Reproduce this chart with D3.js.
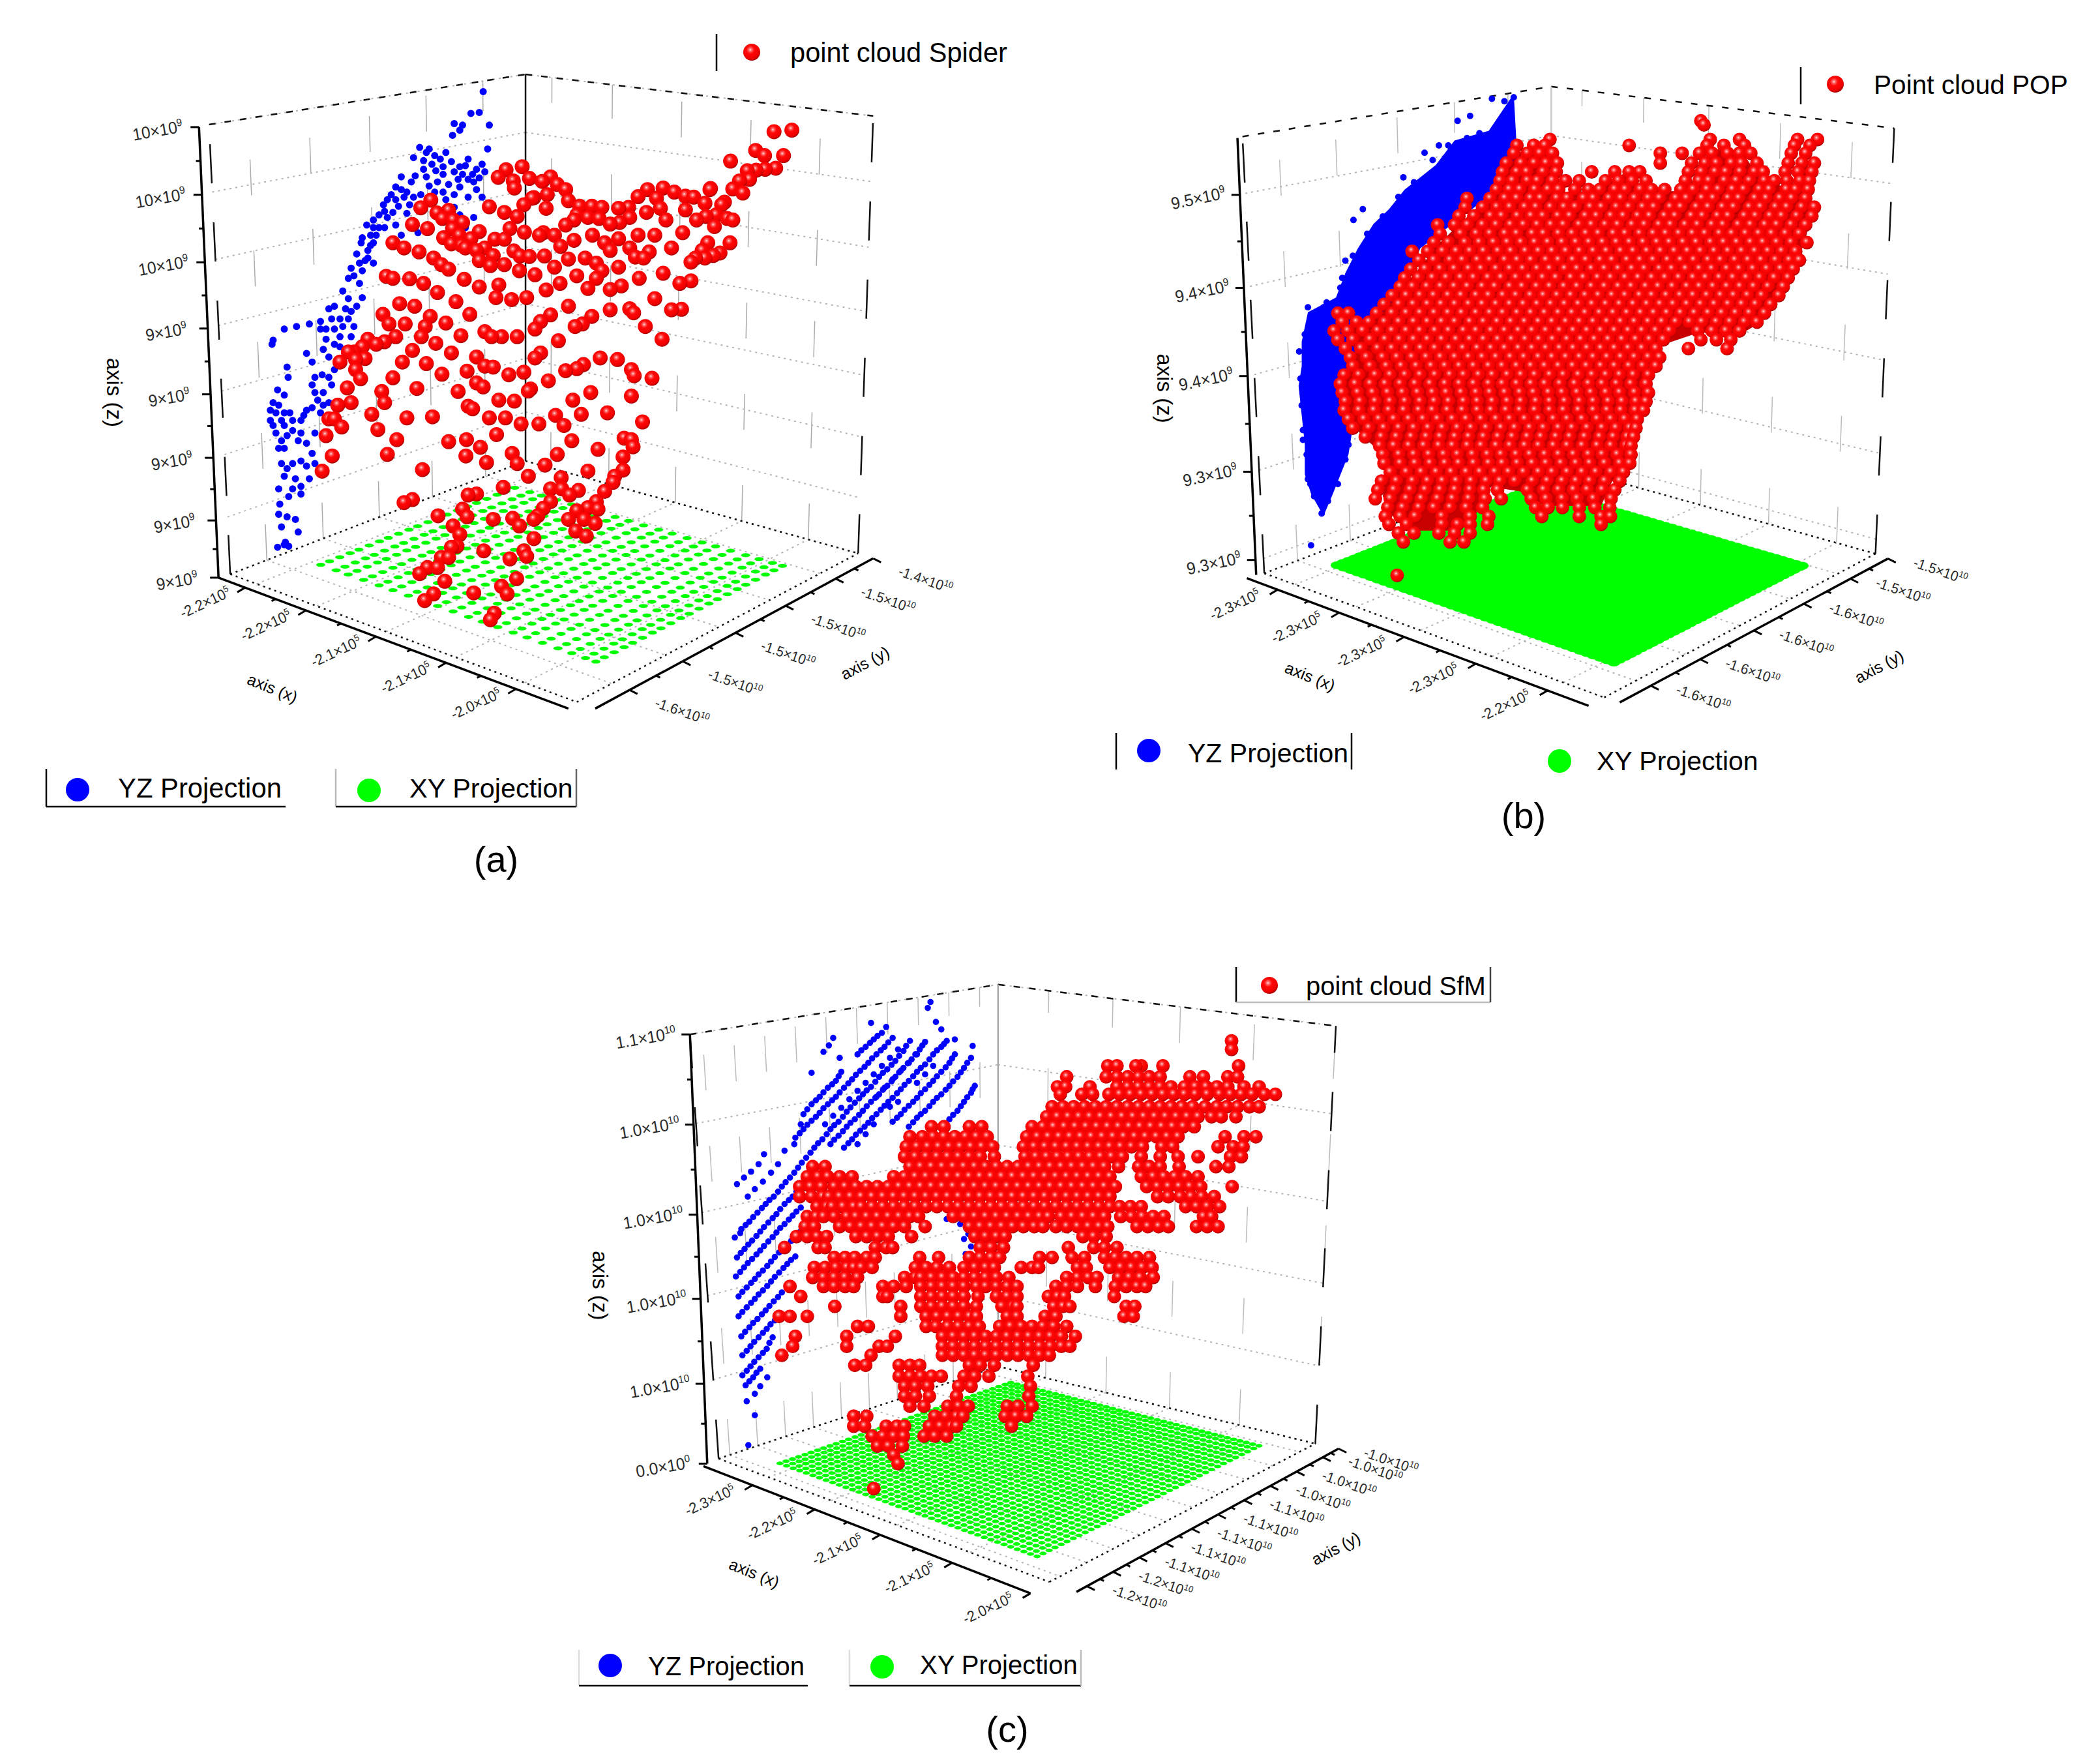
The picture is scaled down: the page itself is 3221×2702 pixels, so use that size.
<!DOCTYPE html>
<html>
<head>
<meta charset="utf-8">
<title>Point clouds</title>
<script src="https://cdn.jsdelivr.net/npm/d3@7"></script>
<style>
body { margin: 0; background: #fff; }
text { font-family: "Liberation Sans", Arial, sans-serif; fill: #000; }
</style>
</head>
<body>
<script>
// Red and blue clouds are read off the picture, so they are given in plot-plane
// reading units (0-1568 across the panel), since depth can't be recovered from one view.
// Green cells and ticks are given in percent of the floor axes.

// ---- panel a ----
var redCloudA = [[1351,218],[1319,221],[1286,258],[1302,268],[1336,268],[1241,279],[1322,293],[1303,295],[1287,297],[1271,298],[1275,315],[1257,318],[1245,334],[1263,342],[1230,360],[1204,335],
[867,290],[838,296],[824,311],[851,318],[880,313],[853,332],[918,310],[903,319],[930,325],[945,335],[888,351],[912,345],[950,357],[910,372],[870,365],[885,352],[858,388],[835,380],[808,369],[703,356],[685,371],[714,381],[735,376],[724,392],[670,404],[697,412],[743,395],[760,400],[742,412],[754,425],[790,418],[726,430],[740,442],[758,445],[775,432],[635,440],[655,450],[682,458],[708,470],[722,483],[735,492],[765,450],[785,455],[800,450],[818,433],[835,433],[845,412],[871,419],[898,425],[905,420],[852,456],[815,465],[790,475],[810,485],[835,483],[880,467],[863,466],[907,466],[936,447],[925,425],[945,405],[960,395],[970,368],[965,385],[992,368],[1010,370],[985,390],[1005,392],[1025,403],[1040,372],[1058,370],[1075,349],[1092,335],[1120,332],[1108,352],[1140,340],[1160,348],[1175,350],[1195,362],[1205,333],[1225,365],[1060,390],[1042,400],[1090,380],[1115,372],[1125,395],[1160,375],[1180,395],[1155,420],[1197,388],[1215,385],[1212,408],[1235,392],[1245,395],[1075,425],[1105,425],[960,435],[993,425],[1015,440],[1040,432],[1060,450],[1025,455],[1135,450],[1095,458],[1070,468],[1085,470],[1000,480],[980,470],[950,472],[925,488],[890,503],[862,495],[1170,478],[1190,455],[1195,470],[1222,460],[1240,440],[1200,440],[1210,465],[1178,470],[1040,488],[1010,495],[1000,510],[965,505],[935,520],[910,533],[875,548],[848,552],[820,548],[825,523],[790,527],[763,512],[748,556],[715,538],[690,520],[665,511],[635,510],[623,506],[1077,510],[1120,500],[1150,520],[1170,515],[1045,525],[1025,532],[985,530],[1105,550],[1135,572],[1153,571],[1060,570],[1067,578],[1025,572],[950,565],[992,585],[975,600],[962,605],[918,582],[900,595],[890,610],[1088,605],[1118,630],[932,633],[858,625],[830,625],[812,625],[800,615],[773,581],[757,623],[730,598],[702,585],[693,605],[674,565],[647,560],[617,581],[628,600],[657,600],[686,625],[712,638],[640,625],[620,635],[605,640],[590,630],[580,645],[565,655],[555,655],[568,670],[585,668],[540,675],[568,690],[577,708],[740,657],[785,665],[670,652],[652,675],[695,678],[800,683],[815,685],[768,693],[723,699],[635,706],[843,700],[870,695],[890,667],[900,657],[945,692],[965,688],[977,680],[1007,667],[1038,670],[1063,690],[1068,702],[1100,707],[914,712],[882,728],[878,732],[785,716],[797,724],[752,733],[678,727],[553,726],[615,733],[620,755],[560,755],[536,760],[825,750],[853,752],[958,750],[990,735],[1063,742],[770,762],[778,767],[597,778],[660,785],[706,783],[520,787],[530,787],[808,785],[837,785],[927,780],[973,778],[1020,775],[1083,793],[543,803],[608,808],[865,797],[897,797],[942,800],[515,820],[642,828],[735,832],[767,828],[821,818],[956,830],[1050,825],[1063,828],[1066,842],[792,843],[625,857],[526,860],[766,860],[849,855],[1003,847],[930,857],[1048,862],[803,873],[858,875],[908,878],[508,890],[688,887],[985,890],[1048,888],[878,900],[937,903],[1033,900],[1030,912],[833,922],[918,925],[938,925],[968,928],[1015,930],[1000,950],[770,937],[785,935],[952,937],[655,952],[670,946],[918,950],[905,963],[985,962],[965,968],[1003,965],[760,965],[768,980],[716,978],[895,978],[815,985],[850,983],[862,998],[888,985],[950,985],[978,985],[998,993],[743,998],[963,1008],[982,1018],[888,1023],[755,1015],[740,1040],[750,1038],[798,1047],[870,1047],[875,1058],[845,1063],[722,1060],[735,1060],[697,1080],[715,1080],[683,1092],[728,1107],[857,1102],[780,1130],[830,1117],[840,1132],[708,1132],[692,1145],[817,1170],[810,1183]];
var blueCloudA = [[797,142],[790,183],[775,185],[745,205],[808,208],[760,208],[742,228],[755,218],[805,255],[695,262],[672,272],[690,278],[710,268],[720,275],[740,280],[705,285],[725,290],[755,290],[770,275],[795,285],[785,295],[745,300],[760,305],[770,315],[800,300],[780,320],[650,310],[640,330],[675,308],[695,310],[715,320],[735,325],[660,340],[625,355],[640,355],[655,350],[618,365],[665,365],[635,380],[685,345],[710,340],[745,345],[770,350],[795,350],[780,390],[745,370],[730,355],[755,385],[765,410],[625,390],[600,395],[610,410],[660,382],[600,410],[595,425],[650,425],[680,420],[580,430],[578,440],[590,455],[600,440],[590,470],[575,480],[560,490],[580,495],[565,505],[600,480],[545,535],[555,550],[530,565],[580,548],[570,565],[520,570],[525,590],[555,590],[565,605],[505,595],[530,610],[540,625],[560,625],[505,610],[515,630],[485,600],[462,605],[440,610],[420,632],[418,640],[540,645],[480,658],[490,675],[445,685],[520,665],[530,690],[520,705],[495,705],[447,705],[428,730],[495,735],[510,735],[520,755],[505,775],[420,755],[440,740],[425,775],[440,775],[450,775],[480,770],[490,765],[510,760],[415,770],[470,790],[455,790],[420,800],[440,800],[425,815],[465,830],[480,835],[495,815],[435,830],[440,845],[490,855],[495,875],[435,875],[455,875],[470,870],[445,885],[485,905],[455,925],[470,935],[448,940],[430,925],[432,955],[430,975],[445,980],[435,1000],[460,985],[465,1010],[442,1030],[428,1040],[440,1035],[448,1038],
[683,252],[700,255],[730,262],[765,288],[778,305],[752,315],[790,312],[725,305],[712,298],[690,295],[668,320],[650,335],[632,345],[620,378],[645,368],[672,350],[700,328],[725,340],[755,330],[785,335],[610,385],[588,405],[605,425],[620,410],[640,405],[585,475],[570,462],[595,445],[555,510],[575,520],[550,570],[560,575],[540,590],[515,610],[545,605],[530,640],[510,650],[525,720],[508,700],[490,720],[500,750],[475,780],[430,760],[415,790],[435,790],[455,810],[445,820],[470,815],[430,845],[480,880],[440,900],[460,905],[470,920]];
var greenAx = [10,14.5,18,22.5,27,31,35.5,40,44,48.5,53,57,61.5,66,70,74.5,79,83,87,90];
var greenAy = [19,22,25.5,29,32,35.5,39,42,45.5,49,52,55.5,59,62,65.5,69,72,75.5,79,82,85];
var xTicksA = [7.6,25,45,65,85];
var xLabelsA = ["-2.2×10^5","-2.2×10^5","-2.1×10^5","-2.1×10^5","-2.0×10^5"];
var yTicksA = [12.4,31.5,50.5,68.5,86.5,100];
var yLabelsA = ["-1.6×10^10","-1.5×10^10","-1.5×10^10","-1.5×10^10","-1.5×10^10","-1.4×10^10"];
var zTicksA = [100,85,70,55.3,40.7,26.6,12.7,0];
var zLabelsA = ["10×10^9","10×10^9","10×10^9","9×10^9","9×10^9","9×10^9","9×10^9","9×10^9"];

// ---- panel b ----
var redOutlineB = [[655,205],[700,190],[710,240],[730,285],[770,285],[830,245],[860,280],[930,285],[945,230],[985,190],[1020,210],[1045,260],[1100,280],[1120,210],[1125,320],[1120,370],[1105,430],[1080,470],[1070,520],[1040,555],[1000,585],[950,570],[880,600],[860,660],[860,720],[840,770],[830,840],[805,880],[790,925],[700,925],[660,895],[610,885],[590,940],[550,975],[490,975],[455,945],[440,905],[450,830],[405,780],[385,740],[380,680],[395,610],[385,560],[430,545],[480,470],[530,390],[580,330],[630,270]];
var redRowsB = [[140,[950]],[148,[955]],[178,[708,965,1012,1105,1137]],
[190,[655,682,700,835,960,987,1020,1100,1125]],
[206,[650,672,692,712,885,920,948,968,993,1012,1030,1095,1118]],
[226,[638,662,683,702,720,885,935,957,975,999,1015,1040,1090,1112,1132]],
[244,[632,655,671,697,718,775,812,835,852,930,951,973,990,1013,1036,1050,1085,1106,1128]],
[262,[628,648,672,688,712,733,755,797,818,840,862,925,947,963,988,1007,1028,1052,1068,1088,1109,1124]],
[280,[622,643,660,684,705,722,748,770,788,812,829,853,871,892,918,938,960,978,1001,1019,1044,1060,1087,1102,1122]],
[298,[575,612,636,655,677,693,719,736,762,778,803,822,844,866,884,910,927,952,970,994,1011,1037,1055,1077,1096,1118]],
[316,[572,600,623,644,668,686,709,731,749,773,791,815,835,857,875,901,918,943,962,985,1003,1028,1046,1070,1088,1112,1132]],
[334,[562,586,613,631,656,678,697,721,740,765,783,806,826,849,868,892,909,935,953,977,994,1020,1038,1061,1080,1104,1128]],
[352,[528,555,576,600,622,645,666,688,710,730,755,775,797,817,840,860,883,902,925,945,968,986,1010,1030,1053,1072,1095,1118]],
[370,[532,565,590,612,636,655,680,698,722,744,766,786,810,829,852,874,894,915,937,957,980,1000,1022,1043,1064,1086,1108]],
[388,[522,545,572,595,618,640,662,684,705,728,750,771,793,815,836,858,880,900,922,943,966,987,1008,1030,1050,1072,1095,1120]],
[406,[487,512,536,558,580,602,625,646,669,690,712,734,756,778,799,822,842,864,886,908,929,950,972,994,1016,1037,1058,1080,1102]],
[424,[498,522,548,568,592,612,636,656,678,702,722,745,766,789,808,832,853,874,897,918,939,962,982,1005,1026,1047,1070,1092,1108]],
[442,[485,508,532,555,578,598,622,644,665,688,708,732,752,775,796,818,840,860,884,904,926,948,968,992,1012,1034,1056,1078,1098]],
[460,[475,497,520,542,565,586,609,630,654,675,697,718,742,762,785,806,829,850,872,893,915,938,958,980,1002,1023,1045,1068,1090]],
[478,[468,488,511,533,555,576,600,620,644,664,687,708,731,752,775,796,818,839,862,882,905,928,948,970,992,1013,1035,1058,1082]],
[496,[455,478,500,522,545,566,590,610,633,654,677,698,720,742,765,786,808,829,852,872,895,917,938,960,982,1003,1025,1048,1075]],
[514,[442,466,489,512,534,556,578,600,622,644,666,688,710,732,754,776,798,820,842,864,885,906,928,950,972,994,1016,1038,1062]],
[532,[368,385,430,455,478,500,523,545,567,590,612,633,656,678,700,722,744,765,788,810,832,854,875,896,918,940,962,984,1006,1028,1052]],
[550,[375,398,418,443,466,490,512,535,556,580,602,624,646,668,690,712,734,756,778,800,822,844,866,888,910,932,952,975,997,1020,1040]],
[568,[362,384,408,432,455,478,500,524,546,570,590,614,636,658,680,702,724,746,768,790,812,834,856,878,900,945,968,990,1012]],
[586,[368,392,420,444,467,490,512,535,558,580,602,625,647,669,691,713,736,758,780,802,824,846,868,890,950,975,998]],
[604,[380,405,432,455,478,501,524,547,569,592,614,636,658,680,702,724,746,768,790,812,834,856,878,930,992]],
[622,[388,414,440,463,487,510,533,556,578,600,622,645,667,690,712,734,756,778,800,822,844,866,884]],
[640,[392,420,446,470,494,518,540,563,586,610,632,655,678,700,722,745,767,790,812,835,857,878]],
[658,[378,402,428,452,476,500,524,548,570,594,616,640,662,684,708,730,754,776,798,820,842,866]],
[676,[372,396,420,444,468,492,516,540,563,586,610,632,655,678,700,724,748,770,792,815,838,862]],
[694,[375,400,424,448,472,496,520,542,566,590,612,636,660,682,706,728,752,774,798,820,844,866]],
[712,[380,404,428,452,476,500,523,546,570,592,616,640,662,686,708,732,756,778,802,824,846,862]],
[730,[378,402,426,450,474,498,520,544,568,592,614,638,660,684,708,730,754,778,800,822,845,858]],
[748,[385,410,434,458,482,505,528,552,574,598,622,644,668,690,714,736,760,784,806,828,848]],
[766,[392,418,442,466,490,513,536,560,582,606,630,652,676,698,722,744,768,792,814,836,846]],
[784,[412,438,462,486,510,532,556,578,602,625,648,672,694,718,740,764,788,810,832,842]],
[802,[435,458,482,506,530,552,576,598,622,644,668,690,714,736,760,784,806,830,838]],
[820,[440,466,490,514,538,560,584,608,630,654,676,700,722,746,770,792,816,838]],
[838,[442,468,492,516,540,562,586,610,632,656,680,702,726,750,772,796,820,836]],
[856,[452,478,502,526,550,574,596,620,642,666,690,712,736,760,782,806,826]],
[874,[438,462,488,512,536,558,582,606,628,652,680,704,728,750,772,796,820]],
[892,[432,458,484,508,532,556,580,602,624,672,698,722,746,768,792,812]],
[910,[428,452,478,502,528,552,578,604,630,678,702,728,752,778,806]],
[928,[448,472,498,522,548,574,600,685,705,728,755,780,804]],
[946,[444,468,492,535,580,610,695,755,790,805]],
[962,[450,478,535,560,580,608,790]],
[980,[465,490,530,555,580]],
[998,[473,548,570]],
[1066,[463]]];
var blueOutlineB = [[650,85],[655,200],[645,260],[500,400],[400,700],[385,820],[360,900],[345,945],[325,900],[315,860],[315,800],[305,680],[310,640],[310,590],[320,530],[365,500],[380,450],[400,400],[425,350],[450,320],[475,280],[505,250],[525,230],[555,180],[610,160]];
var blueCloudB = [[615,95],[635,100],[560,140],[580,130],[507,205],[530,190],[473,255],[408,320],[393,342],[325,1005],[380,425],[375,460],[320,520],[340,525],[345,520],[595,165],[575,175],[545,190],[520,220],[490,265],[465,295],[440,335],[415,370],[392,415],[372,480],[350,510],[325,545],[315,575],[306,610],[308,665],[310,720],[312,770],[318,820],[320,870],[330,905],[342,940],[352,915],[368,880],[380,830],[385,800],[312,790],[324,880],[640,120],[628,140],[650,92]];
var greenBx = [8,10,12,14,16,18,20,22,24,26,28,30,32,34,36,38,40,42,44,46,48,50,52,54,56,58,60,62,64,66,68,70,72,74,76,78,80,82,84,86,88,90];
var greenBy = [16,18,20,22,24,26,28,30,32,34,36,38,40,42,44,46,48,50,52,54,56,58,60,62,64,66,68,70,72,74,76,78,80,82,84,85];
var xTicksB = [9,27,46,67,88];
var xLabelsB = ["-2.3×10^5","-2.3×10^5","-2.3×10^5","-2.3×10^5","-2.2×10^5"];
var yTicksB = [11.6,30,50,68.6,86,100];
var yLabelsB = ["-1.6×10^10","-1.6×10^10","-1.6×10^10","-1.6×10^10","-1.5×10^10","-1.5×10^10"];
var zTicksB = [87,65.7,45.5,23.6,3.4];
var zLabelsB = ["9.5×10^9","9.4×10^9","9.4×10^9","9.3×10^9","9.3×10^9"];

// ---- panel c ----
var redRowsC = [[178,[1217]],[195,[1217]],
[228,[988,1005,1050,1040,1090,1230]],
[250,[912,985,1005,1025,1045,1065,1085,1140,1165,1210,1228]],
[270,[895,910,955,1005,1025,1045,1065,1085,1105,1130,1150,1170,1190,1210,1240,1268]],
[285,[900,940,960,990,1010,1030,1050,1070,1090,1110,1130,1150,1172,1195,1215,1235,1255,1278,1298]],
[310,[885,905,925,945,965,985,1005,1025,1045,1065,1085,1105,1125,1145,1168,1190,1208,1228,1250,1268]],
[330,[875,895,915,935,955,975,995,1015,1035,1055,1075,1095,1115,1135,1155,1180,1198,1225]],
[350,[662,685,732,755,848,868,888,908,928,948,968,988,1008,1028,1048,1068,1088,1108,1128,1148]],
[370,[622,645,665,685,705,725,745,765,838,858,878,898,918,938,958,978,998,1018,1038,1058,1078,1098,1118,1205,1240,1262]],
[390,[615,635,655,675,695,715,735,755,775,832,852,872,892,912,932,952,972,992,1012,1032,1052,1088,1108,1192,1220,1238]],
[410,[612,632,652,672,692,712,732,752,778,835,855,875,895,915,935,955,975,995,1015,1050,1085,1118,1155,1215,1235]],
[430,[442,465,622,642,662,682,702,722,742,762,782,802,822,842,862,882,902,922,942,962,982,1008,1045,1065,1085,1120,1188,1212]],
[450,[432,452,470,492,515,592,612,632,652,672,692,712,732,752,772,792,812,832,852,872,892,912,932,952,972,992,1050,1072,1092,1112,1132,1155]],
[470,[418,438,458,482,502,522,542,562,582,602,622,642,662,682,702,722,742,762,782,802,822,842,862,882,902,922,942,962,982,1002,1060,1080,1100,1120,1140,1160,1218]],
[490,[418,440,460,472,492,512,532,552,572,592,612,632,652,672,692,712,732,752,772,792,812,832,852,872,892,912,932,952,972,992,1080,1100,1122,1142,1162,1185]],
[510,[450,468,478,498,518,532,552,572,592,612,632,652,672,692,712,732,752,772,792,812,832,852,872,892,912,932,952,972,992,1010,1030,1050,1132,1152,1172,1195]],
[530,[432,448,462,482,505,522,542,562,582,602,622,638,702,722,742,762,782,802,822,842,862,878,902,922,942,962,982,1012,1032,1052,1072,1092,1165,1180]],
[550,[428,445,492,512,532,552,572,592,612,650,732,752,772,792,812,832,852,868,892,912,932,952,972,988,1042,1062,1082,1100,1152,1172,1192]],
[570,[412,432,450,468,522,542,562,582,625,742,762,782,798,942,962,985]],
[592,[390,452,465,558,578,590,752,772,795,915,962,982,1005]],
[612,[482,502,520,542,558,640,675,732,752,772,788,862,885,922,945,982,1002,1022,1042,1065]],
[632,[445,465,485,505,518,532,552,632,652,672,695,722,742,762,778,828,848,860,932,948,992,1012,1032,1052,1070]],
[652,[442,462,482,502,525,612,632,642,662,682,702,722,742,762,782,805,912,932,952,968,1008,1028,1048,1072]],
[670,[400,462,482,502,518,572,592,615,642,662,682,702,722,745,762,782,802,820,892,912,932,965,1002,1022,1042,1058]],
[690,[420,572,580,642,662,682,702,722,748,782,802,820,878,895,908,1000]],
[710,[483,605,642,662,682,702,722,745,792,812,820,888,905,918,1022,1038]],
[730,[380,400,432,605,652,672,692,712,732,745,802,820,872,892,1018,1035]],
[750,[525,545,652,670,692,712,732,750,788,808,828,848,868,888,912]],
[770,[410,505,595,682,702,722,742,762,782,802,822,842,862,882,902,928]],
[790,[405,505,565,580,682,702,722,742,762,782,802,822,842,862,882,902,918]],
[808,[385,550,682,702,722,742,762,782,802,822,842,862,880]],
[828,[520,540,602,622,640,732,752,778,850]],
[850,[602,622,642,662,680,722,742,768,840]],
[870,[612,632,655,712,735,845]],
[890,[612,632,658,708,842]],
[910,[622,648,692,712,730,802,822,848]],
[930,[518,542,668,688,708,720,798,818,838]],
[950,[518,538,578,598,612,658,678,698,708,810]],
[970,[552,572,592,610,648,668,690]],
[990,[562,582,608]],
[1008,[592]],
[1025,[600]],
[1075,[555]]];
var blueCloudC = [[660,100],[655,112],[550,142],[670,140],[680,155],[462,200],[472,187],[480,172],[492,212],[440,242],
[302,465],[315,452],[328,440],[342,425],[352,405],[322,490],[335,475],[350,460],[365,442],[378,425],[390,398],
[298,572],[310,555],[325,540],[340,522],[355,505],[370,490],[385,470],[400,452],[415,432],[430,412],[445,392],[460,375],[475,355],[490,340],[505,320],[520,302],[535,285],[550,270],[565,250],[580,235],[595,218],[610,198],[622,178],
[302,612],[316,595],[330,578],[345,560],[360,542],[375,525],[390,505],[405,490],[420,470],[435,450],[410,372],[425,355],[440,338],[455,322],[470,305],[485,290],[500,272],[515,255],[530,238],[545,222],[560,205],[575,190],[590,172],
[300,650],[315,632],[330,615],[345,598],[360,580],[375,562],[390,545],[405,528],[420,512],[425,325],[440,305],[455,290],[470,272],[485,258],[495,240],[525,205],[540,190],[555,175],[570,162],[578,150],
[305,690],[320,672],[335,655],[350,638],[365,620],[380,602],[395,588],[410,570],[425,552],[475,385],[490,368],[505,350],[520,335],[535,318],[550,300],[565,285],[580,268],[595,250],[610,232],[625,215],[640,195],[650,180],
[305,730],[320,712],[335,695],[350,678],[365,660],[380,642],[395,625],[410,610],[500,392],[515,375],[530,358],[545,342],[560,325],[575,308],[590,292],[605,275],[620,258],[635,240],[650,225],[665,205],[680,190],[690,178],
[310,770],[325,752],[340,735],[355,718],[370,700],[385,682],[590,340],[605,325],[620,308],[635,292],[650,275],[665,258],[680,240],[695,222],[705,205],[705,175],
[312,808],[327,790],[342,772],[357,755],[372,738],[620,350],[635,332],[650,318],[665,300],[680,285],[695,268],[710,250],[722,232],[735,212],[738,188],
[312,848],[327,830],[342,812],[357,795],[368,772],[695,335],[710,318],[722,300],[735,282],[742,268],
[318,868],[332,852],[345,835],[358,852],[320,900],[335,885],[345,870],[335,928],[323,988],
[560,290],[575,272],[590,255],[605,238],[620,222],[635,205],[600,300],[585,310],[555,345],[540,365],[525,385],[635,262],[650,245],[665,228],[420,345],[408,385],[465,345],[480,328],[495,312],[510,295],[525,278],[540,262],[555,245],[570,228],[585,212],[600,195],
[700,520],[715,545],[690,535],[730,565],[735,590],[725,605],[722,575],
[308,563],[318,547],[332,531],[348,513],[362,497],[378,480],[392,461],[408,442],[422,422],[438,402],[452,383],[468,365],[482,347],[498,330],[512,311],[528,293],[542,277],[558,260],[572,242],[588,226],[602,208],[615,188],
[309,603],[323,586],[338,569],[352,551],[368,533],[382,515],[398,497],[412,480],[428,460],[418,363],[432,346],[448,330],[462,313],[478,297],[492,281],[508,263],[522,246],[538,230],[552,213],[568,197],[582,181],
[308,641],[322,623],[338,606],[352,589],[368,571],[382,553],[398,536],[412,520],[432,315],[448,297],[462,281],[478,265],[490,249],[532,197],[548,182],[562,168],
[312,681],[328,663],[342,646],[358,629],[372,611],[388,595],[402,579],[418,561],[482,376],[498,359],[512,342],[528,326],[542,309],[558,292],[572,276],[588,259],[602,241],[618,223],[632,205],[645,187],
[312,721],[328,703],[342,686],[358,669],[372,651],[388,633],[402,617],[508,383],[522,366],[538,350],[552,333],[568,316],[582,300],[598,283],[612,266],[628,249],[642,232],[658,215],[672,197],[685,184],
[317,761],[332,743],[348,726],[362,709],[378,691],[598,332],[612,316],[628,300],[642,283],[658,266],[672,249],[688,231],[700,213],
[320,799],[334,781],[350,763],[364,746],[628,341],[642,325],[658,309],[672,292],[688,276],[702,259],[716,241],[728,222],
[320,839],[334,821],[350,803],[362,783],[702,326],[716,309],[728,291],[738,275],[325,860],[338,843]];
var greenCx = [11,13,15,17,19,21,23,25,27,29,31,33,35,37,39,41,43,45,47,49,51,53,55,57,59,61,63,65,67,69,71,73,75,77,79,81,83,85,87,89];
var greenCy = [9,11.2,13.5,15.7,18,20.2,22.5,24.7,27,29.2,31.5,33.7,36,38.2,40.5,42.7,45,47.2,49.5,51.7,54,56.2,58.5,60.7,63,65.2,67.5,69.7,72,74.2,76.5,78.7,81,83.2,85.5,87.7,90,92];
var xTicksC = [15,34,54,76,100];
var xLabelsC = ["-2.3×10^5","-2.2×10^5","-2.1×10^5","-2.1×10^5","-2.0×10^5"];
var yTicksC = [4,14,24,34,44,54,64,74,84,94,100];
var yLabelsC = ["-1.2×10^10","-1.2×10^10","-1.1×10^10","-1.1×10^10","-1.1×10^10","-1.1×10^10","-1.1×10^10","-1.0×10^10","-1.0×10^10","-1.0×10^10","-1.0×10^10"];
var zTicksC = [100,79,58,38.4,18.6,0];
var zLabelsC = ["1.1×10^10","1.0×10^10","1.0×10^10","1.0×10^10","1.0×10^10","0.0×10^0"];

// legend texts
var legendNames = ["YZ Projection", "XY Projection"];

var W = 3221, H = 2702;
var svg = d3.select("body").append("svg").attr("width", W).attr("height", H).style("display", "block");
svg.append("rect").attr("width", W).attr("height", H).attr("fill", "#fff");

var grad = svg.append("defs").append("radialGradient").attr("id", "ball")
	.attr("cx", "42%").attr("cy", "36%").attr("r", "62%");
grad.append("stop").attr("offset", "0%").attr("stop-color", "#ffe8e8");
grad.append("stop").attr("offset", "14%").attr("stop-color", "#ff6a6a");
grad.append("stop").attr("offset", "38%").attr("stop-color", "#ff0808");
grad.append("stop").attr("offset", "85%").attr("stop-color", "#ee0000");
grad.append("stop").attr("offset", "100%").attr("stop-color", "#b00000");

var pct = d3.scaleLinear().domain([0, 100]).range([0, 1]);

function lerp(a, b, f) { return [a[0] + (b[0] - a[0]) * f, a[1] + (b[1] - a[1]) * f]; }
function rows(r) { return r.flatMap(function(d) { return d[1].map(function(x) { return [x, d[0]]; }); }); }
function lineOf(g, a, b, stroke, width, dash) {
	g.append("line").attr("x1", a[0]).attr("y1", a[1]).attr("x2", b[0]).attr("y2", b[1])
		.attr("stroke", stroke).attr("stroke-width", width).attr("stroke-dasharray", dash || null);
}
function tickText(g, str, pos, rot, size, sx) {
	var parts = str.split("^");
	var t = g.append("text").attr("text-anchor", "middle")
		.attr("transform", "translate(" + pos[0] + "," + pos[1] + ") rotate(" + rot + ") scale(" + sx + ",1)")
		.attr("font-size", size).style("fill", "#2a2a2a");
	t.append("tspan").text(parts[0]);
	if (parts[1]) t.append("tspan").attr("dy", -size * 0.38).attr("font-size", size * 0.62).text(parts[1]);
}

function drawPanel(p) {
	var g = svg.append("g");
	var vx = d3.scaleLinear().domain([0, 1568]).range([p.view[0], p.view[0] + p.view[2]]);
	var vy = d3.scaleLinear().domain([0, 1568]).range([p.view[1], p.view[1] + p.view[3]]);
	function v(d) { return [vx(d[0]), vy(d[1])]; }
	var L = v(p.L), B = v(p.B), F = v(p.F), R = v(p.R), TL = v(p.TL), TB = v(p.TB), TR = v(p.TR);
	function floor(s, t) { return lerp(lerp(L, F, s), lerp(B, R, s), t); }
	function leftWall(t, z) { return lerp(lerp(L, B, t), lerp(TL, TB, t), z); }
	function rightWall(s, z) { return lerp(lerp(B, R, s), lerp(TB, TR, s), z); }

	var gridC = "#b4b4b4";
	p.xTicks.forEach(function(d) {
		var s = pct(d);
		lineOf(g, floor(s, 0), floor(s, 1), gridC, 2, "3 6");
		lineOf(g, rightWall(s, 0), rightWall(s, 1), p.wallV, 1.5, "55 85");
	});
	p.yTicks.forEach(function(d) {
		var t = pct(d);
		lineOf(g, floor(0, t), floor(1, t), gridC, 2, "3 6");
		lineOf(g, leftWall(t, 0), leftWall(t, 1), p.wallV, 1.5, "55 85");
	});
	p.zTicks.forEach(function(d) {
		var z = pct(d);
		lineOf(g, leftWall(0, z), leftWall(1, z), gridC, 2, "3 6");
		lineOf(g, rightWall(0, z), rightWall(1, z), gridC, 2, "3 6");
	});

	// box edges
	lineOf(g, L, F, "#111", 2.5, "3 6");
	lineOf(g, F, R, "#111", 2.5, "3 6");
	lineOf(g, L, B, "#111", 2.5, "3 6");
	lineOf(g, B, R, "#111", 2.5, "3 6");
	lineOf(g, TL, TB, "#111", 2.5, "10 14");
	lineOf(g, TB, TR, "#111", 2.5, "10 14");
	lineOf(g, B, TB, p.backC, 2.5);
	lineOf(g, L, TL, "#111", 2.5, "60 60");
	lineOf(g, R, TR, "#111", 2.5, "60 60");

	// axes
	var xA = [v(p.xAxis[0]), v(p.xAxis[1])], yA = [v(p.yAxis[0]), v(p.yAxis[1])], zA = [v(p.zAxis[0]), v(p.zAxis[1])];
	lineOf(g, xA[0], xA[1], "#000", 3.5);
	lineOf(g, yA[0], yA[1], "#000", 3.5);
	lineOf(g, zA[0], zA[1], "#000", 3.5);
	function minors(a) { return d3.pairs(a).map(function(d) { return (d[0] + d[1]) / 2; }); }
	p.xTicks.forEach(function(d, i) {
		var o = lerp(xA[0], xA[1], pct(d));
		lineOf(g, o, [o[0] - 12, o[1] + 7], "#000", 3);
		tickText(g, p.xLabels[i], [o[0] + p.xOff[0], o[1] + p.xOff[1]], -25, 23, 0.95);
	});
	minors(p.xTicks).forEach(function(d) {
		var o = lerp(xA[0], xA[1], pct(d));
		lineOf(g, o, [o[0] - 6, o[1] + 3], "#000", 3);
	});
	p.yTicks.forEach(function(d, i) {
		var o = lerp(yA[0], yA[1], pct(d));
		lineOf(g, o, [o[0] + 12, o[1] + 6], "#000", 3);
		tickText(g, p.yLabels[i], [o[0] + p.yOff[0], o[1] + p.yOff[1]], 19, 22, 0.95);
	});
	minors(p.yTicks).forEach(function(d) {
		var o = lerp(yA[0], yA[1], pct(d));
		lineOf(g, o, [o[0] + 6, o[1] + 3], "#000", 3);
	});
	p.zTicks.forEach(function(d, i) {
		var o = lerp(zA[0], zA[1], pct(d));
		lineOf(g, o, [o[0] - 13, o[1]], "#000", 3);
		tickText(g, p.zLabels[i], [o[0] + p.zOff[0], o[1] + p.zOff[1]], p.zRot, 26, 0.95);
	});
	minors(p.zTicks).forEach(function(d) {
		var o = lerp(zA[0], zA[1], pct(d));
		lineOf(g, o, [o[0] - 7, o[1]], "#000", 3);
	});

	// axis titles
	[["axis (x)", p.xTitle, 22, 25], ["axis (y)", p.yTitle, -28, 25], ["axis (z)", p.zTitle, 90, 33]].forEach(function(d) {
		var c = v(d[1]);
		g.append("text").attr("text-anchor", "middle")
			.attr("transform", "translate(" + c[0] + "," + c[1] + ") rotate(" + d[2] + ")")
			.attr("font-size", d[3]).text(d[0]);
	});

	// green projection on the floor
	var cells = d3.cross(p.greenX, p.greenY);
	g.append("g").selectAll("ellipse").data(cells).join("ellipse")
		.attr("cx", function(d) { return floor(pct(d[0]), pct(d[1]))[0]; })
		.attr("cy", function(d) { return floor(pct(d[0]), pct(d[1]))[1]; })
		.attr("rx", p.greenR[0]).attr("ry", p.greenR[1]).attr("fill", "#00ff00");

	// blue projection on the left wall
	var area = d3.line().x(function(d) { return vx(d[0]); }).y(function(d) { return vy(d[1]); });
	if (p.blueOutline) g.append("path").attr("d", area(p.blueOutline) + "Z").attr("fill", "#0000ff");
	g.append("g").selectAll("circle").data(p.blue).join("circle")
		.attr("cx", function(d) { return vx(d[0]); }).attr("cy", function(d) { return vy(d[1]); })
		.attr("r", p.blueR).attr("fill", "#0000ff");

	// red point cloud, lower balls in front
	if (p.redOutline) g.append("path").attr("d", area(p.redOutline) + "Z").attr("fill", "#c80000");
	var red = p.red.slice().sort(function(a, b) { return a[1] - b[1]; });
	g.append("g").selectAll("circle").data(red).join("circle")
		.attr("cx", function(d) { return vx(d[0]); }).attr("cy", function(d) { return vy(d[1]); })
		.attr("r", p.redR).attr("fill", "url(#ball)");
}

drawPanel({
	view: [60, 30, 1340, 1220],
	L: [343,1093], B: [873,870], F: [965,1345], R: [1470,1052], TL: [305,207], TB: [873,108], TR: [1497,190],
	xAxis: [[322,1100],[950,1358]], yAxis: [[998,1358],[1497,1062]], zAxis: [[322,1100],[287,212]],
	xTicks: xTicksA, xLabels: xLabelsA, yTicks: yTicksA, yLabels: yLabelsA, zTicks: zTicksA, zLabels: zLabelsA,
	xOff: [-58, 30], yOff: [78, 40], zOff: [-62, 14], zRot: -10,
	xTitle: [415,1328], yTitle: [1487,1278], zTitle: [122,735],
	wallV: "#aaa", backC: "#111",
	greenX: greenAx, greenY: greenAy, greenR: [7, 3],
	blue: blueCloudA, blueR: 5.5, red: redCloudA, redR: 11.5
});
drawPanel({
	view: [1700, 80, 1500, 1180],
	L: [250,1062], B: [710,838], F: [795,1315], R: [1230,1022], TL: [215,172], TB: [710,70], TR: [1260,155],
	xAxis: [[222,1072],[770,1332]], yAxis: [[820,1325],[1250,1032]], zAxis: [[237,1065],[207,175]],
	xTicks: xTicksB, xLabels: xLabelsB, yTicks: yTicksB, yLabels: yLabelsB, zTicks: zTicksB, zLabels: zLabelsB,
	xOff: [-62, 30], yOff: [78, 26], zOff: [-62, 14], zRot: -12,
	xTitle: [320,1283], yTitle: [1240,1262], zTitle: [78,685],
	wallV: "#bbb", backC: "#ccc",
	greenX: greenBx, greenY: greenBy, greenR: [10, 6],
	blueOutline: blueOutlineB, blue: blueCloudB, blueR: 5,
	redOutline: redOutlineB, red: rows(redRowsB), redR: 10.5
});
drawPanel({
	view: [880, 1460, 1300, 1200],
	L: [268,1015], B: [785,830], F: [880,1262], R: [1372,985], TL: [215,165], TB: [785,65], TR: [1410,148],
	xAxis: [[240,1030],[845,1285]], yAxis: [[930,1282],[1415,995]], zAxis: [[247,1025],[215,165]],
	xTicks: xTicksC, xLabels: xLabelsC, yTicks: yTicksC, yLabels: yLabelsC, zTicks: zTicksC, zLabels: zLabelsC,
	xOff: [-62, 30], yOff: [78, 26], zOff: [-66, 14], zRot: -10,
	xTitle: [330,1255], yTitle: [1415,1205], zTitle: [35,668],
	wallV: "#bbb", backC: "#aaa",
	greenX: greenCx, greenY: greenCy, greenR: [5.5, 2.8],
	blue: blueCloudC, blueR: 4.8, red: rows(redRowsC), redR: 10.5
});

// legends, placed on the page by hand
var legendBalls = [
	{c: "ball", x: 1153, y: 80, r: 13}, {c: "ball", x: 2815, y: 129, r: 13}, {c: "ball", x: 1947, y: 1511, r: 13},
	{c: "#0000ff", x: 119, y: 1211, r: 18}, {c: "#00ff00", x: 566, y: 1212, r: 18},
	{c: "#0000ff", x: 1762, y: 1151, r: 18}, {c: "#00ff00", x: 2392, y: 1167, r: 18},
	{c: "#0000ff", x: 936, y: 2554, r: 18}, {c: "#00ff00", x: 1353, y: 2556, r: 18}
];
svg.append("g").selectAll("circle").data(legendBalls).join("circle")
	.attr("cx", function(d) { return d.x; }).attr("cy", function(d) { return d.y; }).attr("r", function(d) { return d.r; })
	.attr("fill", function(d) { return d.c == "ball" ? "url(#ball)" : d.c; });

var legendTexts = [
	{t: "point cloud Spider", x: 1212, y: 95, s: 41.6}, {t: "Point cloud POP", x: 2874, y: 144, s: 40.6}, {t: "point cloud SfM", x: 2003, y: 1526, s: 40},
	{t: legendNames[0], x: 181, y: 1223, s: 41.8}, {t: legendNames[1], x: 628, y: 1223, s: 41.5},
	{t: legendNames[0], x: 1822, y: 1169, s: 41}, {t: legendNames[1], x: 2449, y: 1181, s: 41},
	{t: legendNames[0], x: 994, y: 2569, s: 40}, {t: legendNames[1], x: 1411, y: 2567, s: 40},
	{t: "(a)", x: 761, y: 1337, s: 56, m: 1}, {t: "(b)", x: 2337, y: 1270, s: 56, m: 1}, {t: "(c)", x: 1545, y: 2671, s: 56, m: 1}
];
svg.append("g").selectAll("text").data(legendTexts).join("text")
	.attr("x", function(d) { return d.x; }).attr("y", function(d) { return d.y; })
	.attr("font-size", function(d) { return d.s; })
	.attr("text-anchor", function(d) { return d.m ? "middle" : "start"; })
	.text(function(d) { return d.t; });

var legendLines = [
	[1099,52,1099,109,"#000"], [2762,103,2762,160,"#000"],
	[1896,1483,1896,1537,"#000"], [1896,1537,2286,1537,"#bbb"], [2286,1483,2286,1537,"#444"],
	[71,1179,71,1237,"#000"], [71,1237,438,1237,"#000"], [515,1179,515,1237,"#bbb"], [515,1237,884,1237,"#000"], [884,1179,884,1237,"#666"],
	[1712,1124,1712,1180,"#000"], [2073,1124,2073,1180,"#000"],
	[888,2530,888,2585,"#ddd"], [888,2585,1239,2585,"#000"], [1303,2530,1303,2585,"#ddd"], [1303,2585,1658,2585,"#000"], [1658,2530,1658,2585,"#bbb"]
];
svg.append("g").selectAll("line").data(legendLines).join("line")
	.attr("x1", function(d) { return d[0]; }).attr("y1", function(d) { return d[1]; })
	.attr("x2", function(d) { return d[2]; }).attr("y2", function(d) { return d[3]; })
	.attr("stroke", function(d) { return d[4]; }).attr("stroke-width", 2.5);
</script>
</body>
</html>
